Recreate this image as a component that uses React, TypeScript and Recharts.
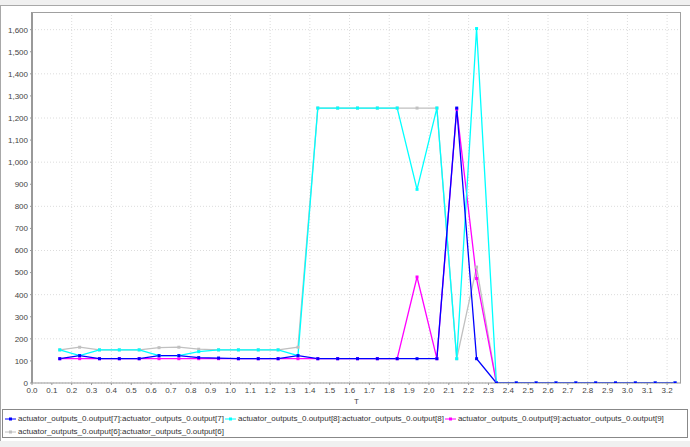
import React from 'react';
import { LineChart, Line, XAxis, YAxis, CartesianGrid } from 'recharts';

const times = [0.14, 0.24, 0.34, 0.44, 0.54, 0.64, 0.74, 0.84, 0.94, 1.04, 1.14, 1.24, 1.34, 1.44, 1.54, 1.64, 1.74, 1.84, 1.94, 2.04, 2.14, 2.24, 2.34, 2.44, 2.54, 2.64, 2.74, 2.84, 2.94, 3.04, 3.14, 3.24];
const output7 = [110, 124, 110, 110, 110, 124, 124, 115, 113, 110, 110, 110, 124, 110, 110, 110, 110, 110, 110, 110, 1245, 110, 0, 0, 0, 0, 0, 0, 0, 0, 0, 0];
const output8 = [150, 124, 150, 150, 150, 124, 124, 142, 150, 150, 150, 150, 124, 1245, 1245, 1245, 1245, 1245, 877, 1245, 110, 1605, 0, 0, 0, 0, 0, 0, 0, 0, 0, 0];
const output9 = [110, 110, 110, 110, 110, 110, 110, 110, 110, 110, 110, 110, 110, 110, 110, 110, 110, 110, 480, 110, 1240, 473, 0, 0, 0, 0, 0, 0, 0, 0, 0, 0];
const output6 = [150, 162, 150, 150, 150, 160, 162, 153, 150, 150, 150, 150, 162, 1245, 1245, 1245, 1245, 1245, 1245, 1245, 110, 525, 0, 0, 0, 0, 0, 0, 0, 0, 0, 0];

const xTicks = [0, 0.1, 0.2, 0.3, 0.4, 0.5, 0.6, 0.7, 0.8, 0.9, 1.0, 1.1, 1.2, 1.3, 1.4, 1.5, 1.6, 1.7, 1.8, 1.9, 2.0, 2.1, 2.2, 2.3, 2.4, 2.5, 2.6, 2.7, 2.8, 2.9, 3.0, 3.1, 3.2];
const yTicks = [0, 100, 200, 300, 400, 500, 600, 700, 800, 900, 1000, 1100, 1200, 1300, 1400, 1500, 1600];

const seriesNames = [
  'actuator_outputs_0.output[7]:actuator_outputs_0.output[7]',
  'actuator_outputs_0.output[8]:actuator_outputs_0.output[8]',
  'actuator_outputs_0.output[9]:actuator_outputs_0.output[9]',
  'actuator_outputs_0.output[6]:actuator_outputs_0.output[6]',
];
const seriesKeys = ['o7', 'o8', 'o9', 'o6'];
const seriesColors = ['#0000ff', '#00ffff', '#ff00ff', '#c0c0c0'];
const seriesValues = [output7, output8, output9, output6];

const data = times.map((t, i) => {
  const row: Record<string, number> = { t };
  seriesKeys.forEach((k, j) => {
    row[k] = seriesValues[j][i];
  });
  return row;
});

const FONT = '"Liberation Sans", Arial, sans-serif';

const makeDot = (color: string) => (props: any) => {
  const { cx, cy, index } = props;
  if (cx == null || cy == null) return <g key={`d-${index}`} />;
  return <rect key={`d-${color}-${index}`} x={cx - 1.5} y={cy - 1.5} width={3} height={3} fill={color} />;
};

const PLOT_LEFT = 32;
const PLOT_TOP = 12;
const PLOT_RIGHT = 681;
const PLOT_BOTTOM = 383;

const LegendMark = ({ color }: { color: string }) => (
  <svg width={11} height={8} style={{ display: 'block', marginRight: 2 }}>
    <line x1={0} y1={4} x2={11} y2={4} stroke={color} strokeWidth={1} />
    <rect x={4} y={2.5} width={3} height={3} fill={color} />
  </svg>
);

export default function App() {
  const drawOrder = [3, 2, 1, 0];
  return (
    <div style={{ position: 'absolute', left: 0, top: 0, width: 690, height: 447, background: '#f0f0f0', overflow: 'hidden', fontFamily: FONT }}>
      <div style={{ position: 'absolute', left: 0, top: 5, width: 690, height: 436, background: '#ffffff', borderTop: '1px solid #a8a8a8', borderLeft: '1px solid #a8a8a8', boxSizing: 'border-box' }} />
      <div style={{ position: 'absolute', left: 0, top: 0 }}>
        <LineChart width={690} height={409} data={data} margin={{ top: PLOT_TOP, right: 690 - PLOT_RIGHT, left: 0, bottom: 4 }}>
          <CartesianGrid stroke="#dcdcdc" strokeDasharray="1 2" verticalValues={xTicks} horizontalValues={yTicks} />
          <XAxis
            type="number"
            dataKey="t"
            domain={[0, 3.27]}
            ticks={xTicks}
            tickFormatter={(v: number) => v.toFixed(1)}
            tick={{ fontSize: 8, fill: '#444', fontFamily: FONT }}
            tickSize={2}
            tickMargin={2}
            stroke="#999"
            height={22}
            allowDataOverflow
            label={{ value: 'T', position: 'insideBottom', offset: 1, fontSize: 8, fill: '#444', fontFamily: FONT }}
          />
          <YAxis
            type="number"
            domain={[0, 1680]}
            ticks={yTicks}
            tickFormatter={(v: number) => v.toLocaleString('en-US')}
            tick={{ fontSize: 8, fill: '#444', fontFamily: FONT }}
            tickSize={2}
            tickMargin={2}
            axisLine={{ stroke: '#999', strokeWidth: 2 }}
            tickLine={{ stroke: '#999' }}
            width={PLOT_LEFT}
            allowDataOverflow
          />
          {drawOrder.map((j) => (
            <Line
              key={seriesKeys[j]}
              type="linear"
              dataKey={seriesKeys[j]}
              name={seriesNames[j]}
              stroke={seriesColors[j]}
              strokeWidth={1.3}
              dot={makeDot(seriesColors[j])}
              activeDot={false}
              isAnimationActive={false}
            />
          ))}
        </LineChart>
      </div>
      <div style={{ position: 'absolute', left: PLOT_LEFT, top: PLOT_TOP, width: PLOT_RIGHT - PLOT_LEFT, height: PLOT_BOTTOM - PLOT_TOP, border: '1px solid #a0a0a0', borderLeft: 'none', borderBottom: 'none', boxSizing: 'border-box', pointerEvents: 'none' }} />
      <div style={{ position: 'absolute', left: 2, top: 409, width: 686, height: 29, border: '1px solid #888', boxSizing: 'border-box', fontSize: 8, color: '#333', background: '#fff' }}>
        <div style={{ display: 'flex', flexWrap: 'wrap', paddingLeft: 2, paddingTop: 2 }}>
          {seriesNames.map((n, j) => (
            <div key={n} style={{ display: 'flex', alignItems: 'center', height: 13, marginRight: 1, whiteSpace: 'nowrap' }}>
              <LegendMark color={seriesColors[j]} />
              <span>{n}</span>
            </div>
          ))}
        </div>
      </div>
    </div>
  );
}
